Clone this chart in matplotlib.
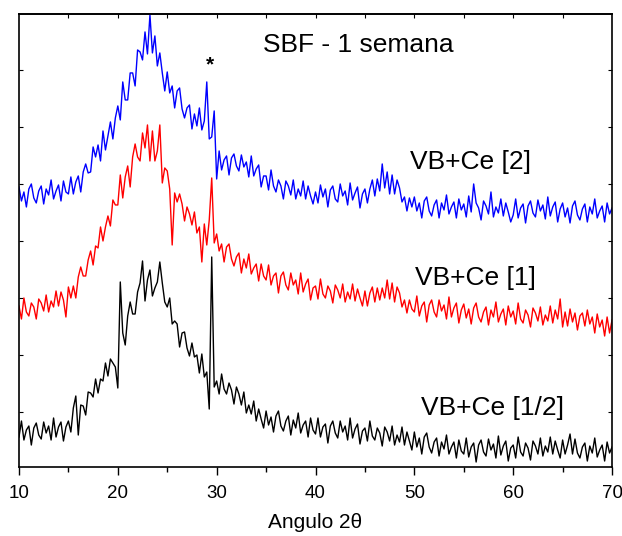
import numpy as np
import matplotlib
matplotlib.use('Agg')
import matplotlib.pyplot as plt

plt.rcParams['font.family'] = ['Liberation Sans', 'DejaVu Sans']

# 2-theta scan, 0.25 deg step
two_theta = np.linspace(10, 70, 241)

# intensities (a.u.), already stacked as in the figure
vb_ce_2 = [
    280, 266, 275, 260, 278, 283, 269, 264, 276, 281, 263, 278, 272, 287, 268, 276, 282, 266, 286, 275,
    273, 290, 273, 285, 291, 275, 295, 303, 294, 295, 320, 310, 322, 306, 336, 317, 331, 345, 328, 349,
    361, 347, 385, 367, 367, 394, 394, 381, 417, 415, 407, 435, 413, 452, 414, 431, 401, 414, 394, 376,
    395, 374, 381, 359, 376, 379, 358, 349, 359, 362, 338, 353, 341, 359, 337, 346, 385, 328, 330, 356,
    288, 316, 297, 307, 311, 292, 309, 313, 301, 296, 312, 300, 305, 290, 311, 291, 298, 302, 280, 291,
    291, 277, 297, 281, 275, 287, 281, 268, 286, 281, 272, 287, 268, 278, 271, 286, 268, 281, 271, 263,
    275, 264, 282, 270, 278, 260, 277, 281, 268, 265, 283, 271, 276, 262, 284, 267, 274, 280, 259, 273,
    278, 264, 278, 287, 271, 288, 276, 303, 279, 295, 273, 292, 273, 287, 279, 265, 270, 256, 269, 260,
    270, 256, 264, 249, 266, 270, 256, 251, 262, 267, 249, 264, 257, 272, 253, 260, 265, 249, 268, 257,
    263, 250, 271, 255, 283, 264, 259, 247, 266, 261, 253, 275, 250, 260, 254, 268, 251, 264, 255, 245,
    252, 268, 249, 259, 263, 244, 261, 266, 254, 250, 267, 256, 262, 248, 270, 251, 260, 265, 245, 258,
    264, 250, 259, 244, 261, 266, 252, 247, 258, 263, 245, 260, 253, 268, 249, 256, 261, 245, 264, 253, 259,
]
vb_ce_1 = [
    161, 148, 169, 155, 151, 164, 160, 148, 168, 164, 156, 172, 155, 166, 160, 176, 161, 175, 167, 150,
    180, 169, 181, 169, 190, 200, 191, 191, 207, 216, 202, 221, 219, 240, 226, 240, 251, 241, 267, 262,
    262, 292, 269, 290, 301, 280, 310, 323, 310, 306, 334, 319, 342, 306, 336, 306, 316, 342, 284, 299,
    296, 278, 222, 274, 265, 273, 263, 246, 260, 253, 242, 255, 234, 240, 205, 243, 222, 247, 289, 224,
    233, 216, 223, 205, 220, 223, 208, 201, 210, 214, 194, 208, 199, 213, 193, 199, 203, 186, 203, 191,
    187, 202, 182, 191, 194, 174, 191, 195, 182, 177, 194, 182, 187, 173, 194, 175, 183, 188, 167, 179,
    181, 168, 188, 173, 169, 181, 176, 164, 182, 177, 169, 183, 165, 175, 168, 183, 166, 178, 169, 161,
    176, 161, 174, 180, 165, 179, 167, 179, 169, 187, 168, 184, 165, 180, 174, 160, 167, 154, 167, 158,
    155, 171, 151, 161, 165, 145, 162, 167, 155, 150, 167, 156, 162, 148, 170, 150, 159, 164, 144, 157,
    163, 149, 158, 143, 159, 164, 150, 145, 155, 160, 142, 157, 150, 165, 145, 153, 158, 142, 161, 150,
    156, 143, 164, 148, 144, 157, 152, 140, 159, 154, 146, 160, 142, 152, 146, 161, 144, 157, 148, 168,
    140, 155, 141, 158, 145, 154, 137, 151, 154, 141, 157, 143, 150, 134, 153, 140, 147, 131, 150, 134, 147,
]
vb_ce_half = [
    30, 46, 27, 37, 41, 22, 39, 44, 32, 28, 45, 34, 41, 27, 49, 30, 40, 45, 26, 40,
    46, 35, 59, 71, 32, 62, 61, 52, 75, 74, 70, 88, 74, 88, 86, 104, 91, 108, 104, 100,
    79, 185, 134, 122, 151, 165, 153, 153, 175, 184, 206, 166, 187, 197, 171, 179, 185, 205, 184, 165,
    160, 169, 143, 146, 143, 120, 134, 135, 119, 111, 124, 110, 112, 94, 113, 90, 95, 58, 210, 80,
    86, 73, 93, 78, 73, 84, 77, 63, 80, 73, 62, 75, 54, 62, 53, 66, 46, 58, 48, 39,
    56, 42, 50, 35, 51, 56, 41, 36, 46, 51, 32, 47, 39, 54, 34, 42, 46, 30, 49, 37,
    33, 49, 30, 40, 43, 24, 41, 46, 34, 29, 46, 35, 41, 27, 49, 29, 38, 43, 23, 36,
    39, 26, 46, 31, 27, 39, 34, 21, 40, 35, 26, 41, 22, 32, 25, 40, 22, 35, 26, 17,
    35, 20, 29, 13, 30, 34, 20, 14, 25, 29, 11, 25, 18, 32, 13, 20, 25, 9, 27, 16,
    13, 29, 10, 20, 24, 5, 22, 27, 15, 11, 28, 17, 23, 9, 31, 12, 21, 26, 6, 19,
    22, 9, 30, 15, 11, 24, 19, 7, 26, 21, 13, 29, 11, 21, 15, 30, 13, 26, 17, 9,
    27, 13, 22, 33, 13, 28, 14, 9, 20, 24, 6, 21, 14, 29, 10, 17, 22, 6, 25, 14, 20,
]

labels = ['VB+Ce [2]', 'VB+Ce [1]', 'VB+Ce [1/2]']

fig = plt.figure(figsize=(6.22, 5.36), dpi=100)
ax = fig.add_axes([0.0305, 0.1287, 0.9535, 0.8453])

ax.plot(two_theta, vb_ce_2, color='#0000ff', lw=1.0)
ax.plot(two_theta, vb_ce_1, color='#ff0000', lw=1.0)
ax.plot(two_theta, vb_ce_half, color='black', lw=1.0)

ax.set_xlim(10, 70)
ax.set_ylim(0, 453)

# labels next to the curves
ax.text(44.3, 422, 'SBF - 1 semana', fontsize=19, ha='center', va='center')
ax.text(29.3, 402, '*', fontsize=15, ha='center', va='center', fontweight='bold')
ax.text(55.7, 305, labels[0], fontsize=19, ha='center', va='center')
ax.text(56.2, 189, labels[1], fontsize=19, ha='center', va='center')
ax.text(57.9, 59, labels[2], fontsize=19, ha='center', va='center')

ax.set_xticks([10, 20, 30, 40, 50, 60, 70])
ax.set_xticks([15, 25, 35, 45, 55, 65], minor=True)
ax.tick_params(axis='x', which='major', direction='out', length=6, width=1, labelsize=13.5, pad=7)
ax.tick_params(axis='x', which='minor', direction='out', length=3.5, width=1)
ax.set_xlabel('Angulo 2θ', fontsize=15, labelpad=8)

ax.set_yticks(np.arange(55, 453, 57))
ax.tick_params(axis='y', which='both', direction='in', length=3, width=0.8,
               left=True, right=True, labelleft=False)

top = ax.secondary_xaxis('top')
top.set_xticks(np.arange(15, 70, 5))
top.tick_params(direction='in', length=3, width=0.8, labeltop=False)
top.spines['top'].set_linewidth(1.2)

for s in ax.spines.values():
    s.set_linewidth(1.2)

fig.savefig('out.png', dpi=100)
